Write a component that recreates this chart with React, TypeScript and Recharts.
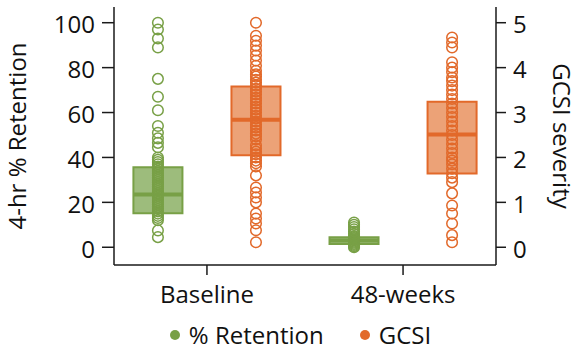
import React from 'react';
import {
  ComposedChart,
  Scatter,
  XAxis,
  YAxis,
  ReferenceArea,
  ReferenceLine,
  Legend,
} from 'recharts';

const categories = ['Baseline', '48-weeks'];

const retentionBaseline = [
  100, 97, 93, 89, 75, 67, 61, 54, 51, 48.5, 46.5, 44.5, 40, 39, 38, 37, 36, 35, 34,
  33, 32, 31, 30, 29, 28, 27, 26, 25, 24, 23, 22, 21, 20, 19, 18, 17, 16, 15, 14, 13,
  12, 7.5, 4.5,
];
const retention48 = [0, 0.5, 1, 1.5, 2, 2.5, 3, 3.5, 4, 4.5, 5, 6, 7, 8, 9, 10, 11];

const gcsiBaseline = [
  5.0, 4.71, 4.6, 4.49, 4.38, 4.27, 4.16, 4.04, 3.93, 3.85, 3.8, 3.73, 3.67, 3.6, 3.53,
  3.47, 3.4, 3.33, 3.27, 3.2, 3.13, 3.07, 3.0, 2.93, 2.87, 2.8, 2.73, 2.67, 2.6, 2.53,
  2.47, 2.4, 2.27, 2.2, 2.13, 2.07, 2.0, 1.93, 1.87, 1.8, 1.6, 1.33, 1.22, 1.11, 1.0,
  0.75, 0.64, 0.53, 0.38, 0.11,
];
const gcsi48 = [
  4.67, 4.56, 4.45, 4.12, 4.0, 3.9, 3.78, 3.7, 3.6, 3.5, 3.4, 3.3, 3.2, 3.1, 3.0, 2.9,
  2.8, 2.7, 2.6, 2.5, 2.4, 2.3, 2.2, 2.1, 2.0, 1.93, 1.85, 1.75, 1.65, 1.55, 1.45, 1.2,
  0.93, 0.75, 0.53, 0.27, 0.11,
];

const retentionBoxes = [
  { q1: 15.2, median: 23.5, q3: 35.6 },
  { q1: 1.4, median: 3, q3: 4.5 },
];
const gcsiBoxes = [
  { q1: 2.05, median: 2.84, q3: 3.58 },
  { q1: 1.64, median: 2.51, q3: 3.24 },
];

const leftTicks = [0, 20, 40, 60, 80, 100];
const rightTicks = [0, 1, 2, 3, 4, 5];
const categoryPositions = [1, 2];

const GREEN = '#78a046';
const GREEN_FILL = '#9dbc7c';
const ORANGE = '#e2692a';
const ORANGE_FILL = '#eca277';
const FONT = "'Open Sans', sans-serif";

const OFFSET = 0.25;
const HALF = 0.125;

const retentionPoints = [
  ...retentionBaseline.map((v) => ({ x: categoryPositions[0] - OFFSET, y: v })),
  ...retention48.map((v) => ({ x: categoryPositions[1] - OFFSET, y: v })),
];
const gcsiPoints = [
  ...gcsiBaseline.map((v) => ({ x: categoryPositions[0] + OFFSET, y: v })),
  ...gcsi48.map((v) => ({ x: categoryPositions[1] + OFFSET, y: v })),
];

const makeShape = (color: string) => (props: any) => (
  <circle cx={props.cx} cy={props.cy} r={5.3} fill="none" stroke={color} strokeWidth={1.5} />
);

const renderLegend = (props: any) => {
  const payload = props.payload || [];
  return (
    <div
      style={{
        display: 'flex',
        justifyContent: 'center',
        alignItems: 'center',
        paddingLeft: 28,
        fontFamily: FONT,
        fontSize: 24,
        color: '#111',
        lineHeight: '28px',
        paddingTop: 6,
      }}
    >
      {payload.map((p: any, i: number) => (
        <div key={i} style={{ display: 'flex', alignItems: 'center', marginRight: i === 0 ? 36 : 0 }}>
          <span
            style={{
              display: 'inline-block',
              width: 10,
              height: 10,
              borderRadius: 5,
              background: p.color,
              marginRight: 9,
            }}
          />
          <span>{p.value}</span>
        </div>
      ))}
    </div>
  );
};

export default function App() {
  const axisStroke = '#1a1a1a';
  const tickStyle = { fontFamily: FONT, fontSize: 24, fill: '#111' };
  return (
    <div style={{ position: 'absolute', left: 0, top: 0 }}>
      <ComposedChart width={573} height={350} margin={{ top: 7, right: 0, bottom: 0, left: 0 }}>
        <XAxis
          dataKey="x"
          type="number"
          domain={[0.526, 2.474]}
          ticks={categoryPositions}
          tickFormatter={(v: number) => categories[Math.round(v) - 1]}
          allowDataOverflow
          height={50}
          tickSize={10}
          tickMargin={11}
          tick={tickStyle}
          stroke={axisStroke}
          strokeWidth={1.5}
        />
        <XAxis
          xAxisId="top"
          orientation="top"
          type="number"
          domain={[0, 1]}
          height={0}
          tick={false}
          tickLine={false}
          stroke={axisStroke}
          strokeWidth={1.5}
        />
        <YAxis
          yAxisId="left"
          dataKey="y"
          type="number"
          domain={[-7.9, 107]}
          ticks={leftTicks}
          allowDataOverflow
          width={114}
          tickSize={12}
          tickMargin={7}
          tick={{ ...tickStyle, dy: 2 }}
          stroke={axisStroke}
          strokeWidth={1.5}
          label={{
            value: '4-hr % Retention',
            angle: -90,
            position: 'insideLeft',
            offset: 17,
            style: { fontFamily: FONT, fontSize: 24, fill: '#111', textAnchor: 'middle' },
          }}
        />
        <YAxis
          yAxisId="right"
          orientation="right"
          dataKey="y"
          type="number"
          domain={[-0.395, 5.35]}
          ticks={rightTicks}
          allowDataOverflow
          width={77}
          tickSize={10}
          tickMargin={7}
          tick={{ ...tickStyle, dy: 2 }}
          stroke={axisStroke}
          strokeWidth={1.5}
          label={{
            value: 'GCSI severity',
            angle: 90,
            position: 'insideRight',
            offset: 11,
            style: { fontFamily: FONT, fontSize: 24, fill: '#111', textAnchor: 'middle' },
          }}
        />
        <Legend verticalAlign="bottom" height={35} content={renderLegend} />

        {retentionBoxes.map((b, i) => (
          <ReferenceArea
            key={`rb${i}`}
            yAxisId="left"
            x1={categoryPositions[i] - OFFSET - HALF}
            x2={categoryPositions[i] - OFFSET + HALF}
            y1={b.q1}
            y2={b.q3}
            fill={GREEN_FILL}
            fillOpacity={1}
            stroke={GREEN}
            strokeWidth={2}
            ifOverflow="visible"
          />
        ))}
        {gcsiBoxes.map((b, i) => (
          <ReferenceArea
            key={`gb${i}`}
            yAxisId="right"
            x1={categoryPositions[i] + OFFSET - HALF}
            x2={categoryPositions[i] + OFFSET + HALF}
            y1={b.q1}
            y2={b.q3}
            fill={ORANGE_FILL}
            fillOpacity={1}
            stroke={ORANGE}
            strokeWidth={2}
            ifOverflow="visible"
          />
        ))}

        <Scatter
          name="% Retention"
          yAxisId="left"
          data={retentionPoints}
          fill={GREEN}
          shape={makeShape(GREEN)}
          isAnimationActive={false}
        />
        <Scatter
          name="GCSI"
          yAxisId="right"
          data={gcsiPoints}
          fill={ORANGE}
          shape={makeShape(ORANGE)}
          isAnimationActive={false}
        />

        {retentionBoxes.map((b, i) => (
          <ReferenceLine
            key={`rm${i}`}
            yAxisId="left"
            segment={[
              { x: categoryPositions[i] - OFFSET - HALF, y: b.median },
              { x: categoryPositions[i] - OFFSET + HALF, y: b.median },
            ]}
            stroke={GREEN}
            strokeWidth={4}
            ifOverflow="visible"
          />
        ))}
        {gcsiBoxes.map((b, i) => (
          <ReferenceLine
            key={`gm${i}`}
            yAxisId="right"
            segment={[
              { x: categoryPositions[i] + OFFSET - HALF, y: b.median },
              { x: categoryPositions[i] + OFFSET + HALF, y: b.median },
            ]}
            stroke={ORANGE}
            strokeWidth={4}
            ifOverflow="visible"
          />
        ))}
      </ComposedChart>
    </div>
  );
}
